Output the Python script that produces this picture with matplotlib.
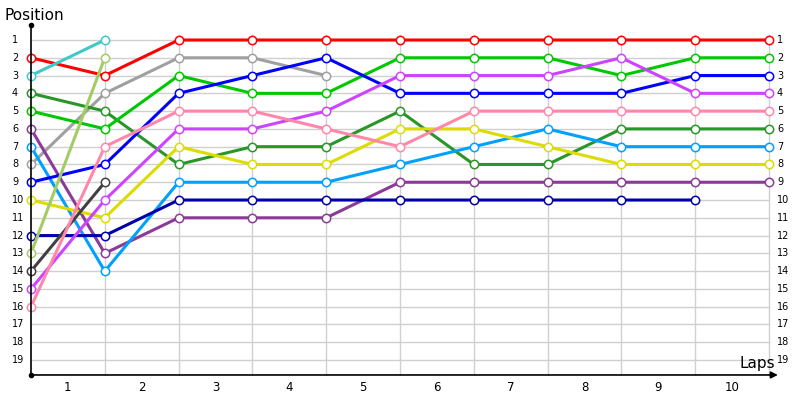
import matplotlib.pyplot as plt

# positions per lap (lap 0 = start), one list per driver
laps = list(range(11))
red = [2, 3, 1, 1, 1, 1, 1, 1, 1, 1, 1]
cyan = [3, 1]
grey = [8, 4, 2, 2, 3]
dark_green = [4, 5, 8, 7, 7, 5, 8, 8, 6, 6, 6]
green = [5, 6, 3, 4, 4, 2, 2, 2, 3, 2, 2]
purple = [6, 13, 11, 11, 11, 9, 9, 9, 9, 9, 9]
light_blue = [7, 14, 9, 9, 9, 8, 7, 6, 7, 7, 7]
blue = [9, 8, 4, 3, 2, 4, 4, 4, 4, 3, 3]
yellow = [10, 11, 7, 8, 8, 6, 6, 7, 8, 8, 8]
navy = [12, 12, 10, 10, 10, 10, 10, 10, 10, 10]
olive = [13, 2]
black = [14, 9]
magenta = [15, 10, 6, 6, 5, 3, 3, 3, 2, 4, 4]
pink = [16, 7, 5, 5, 6, 7, 5, 5, 5, 5, 5]

series = [
    (red, '#ff0000'), (cyan, '#40c8cc'), (grey, '#a0a0a0'),
    (dark_green, '#289628'), (green, '#00c800'), (purple, '#8c3a98'),
    (light_blue, '#00a0ff'), (blue, '#0000ff'), (yellow, '#dcdc00'),
    (navy, '#0000aa'), (olive, '#a4cc64'), (black, '#404040'),
    (magenta, '#cc44ff'), (pink, '#ff88aa'),
]
positions = list(range(1, 20))
lap_labels = [str(i) for i in range(1, 11)]

fig = plt.figure(figsize=(8, 4), dpi=100)
ax = fig.add_axes([0, 0, 1, 1])
sx = 73.8   # px per lap
sy = 17.78  # px per position
ax.set_xlim(-31 / sx, (800 - 31) / sx)
ax.set_ylim(1 + 360 / sy, 1 - 40 / sy)
ax.axis('off')

# grid
for p in positions:
    ax.plot([0, 10], [p, p], color='#d0d0d0', lw=1, zorder=1)
for l in laps[1:]:
    ax.plot([l, l], [0.72, 19.84], color='#d0d0d0', lw=1, zorder=1)

# axes lines
ax.plot([0, 0], [0.16, 19.84], color='black', lw=1.2, zorder=5)
ax.plot([0], [0.16], 'o', color='black', ms=3, zorder=5)
ax.plot([0], [19.84], 'o', color='black', ms=3, zorder=5)
ax.annotate('', xy=(10.12, 19.84), xytext=(0, 19.84),
            arrowprops=dict(arrowstyle='-|>', color='black', lw=1.2,
                            mutation_scale=10, shrinkA=0, shrinkB=0), zorder=5)

for vals, c in series:
    ax.plot(laps[:len(vals)], vals, color=c, lw=2.2, marker='o', ms=6,
            mfc='white', mec=c, mew=1.1, zorder=3)

for p in positions:
    ax.text(-19 / sx, p, str(p), ha='left', va='center', fontsize=7)
    ax.text(10 + 8 / sx, p, str(p), ha='left', va='center', fontsize=7)
for i, lab in enumerate(lap_labels):
    ax.text(i + 0.5, 1 + 347 / sy, lab, ha='center', va='center', fontsize=8.5)

ax.text(-27 / sx, 1 - 24 / sy, 'Position', ha='left', va='center', fontsize=11)
ax.text(10.08, 19.6, 'Laps', ha='right', va='bottom', fontsize=11)

fig.savefig('out.png', dpi=100)
